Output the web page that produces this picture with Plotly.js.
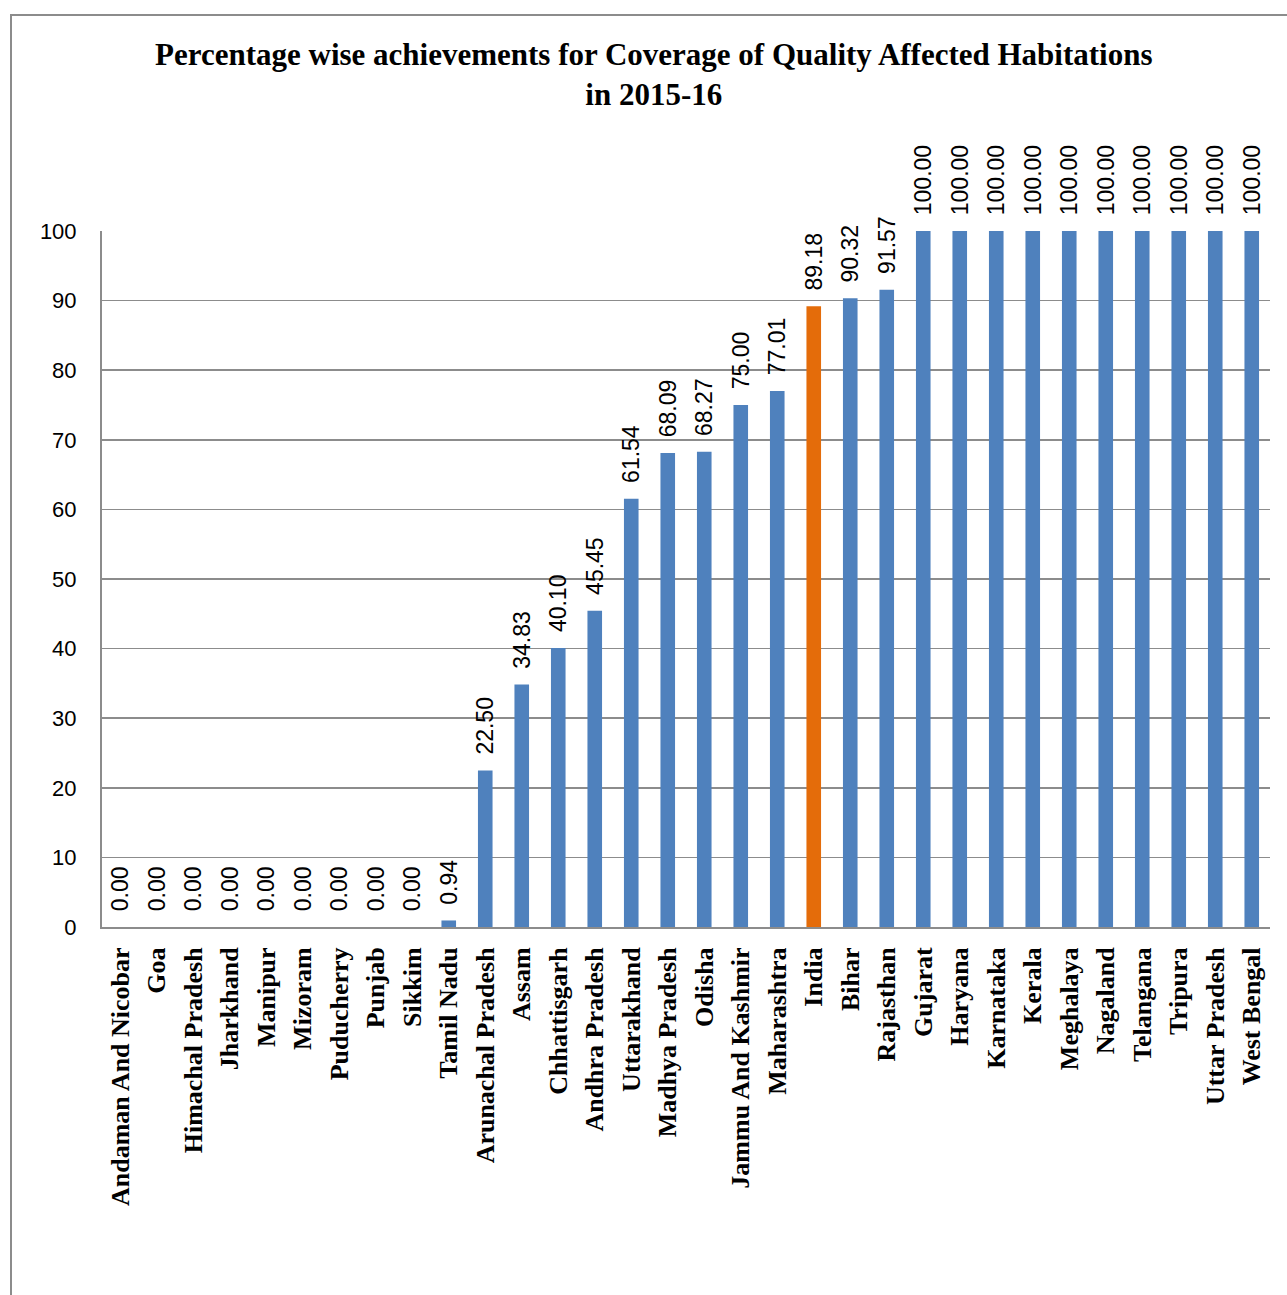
<!DOCTYPE html>
<html>
<head>
<meta charset="utf-8">
<script src="https://cdn.plot.ly/plotly-3.0.1.min.js"></script>
<style>
html,body{margin:0;padding:0;background:#fff;overflow:hidden;}
#frame{position:absolute;left:10px;top:14px;width:1300px;height:1300px;border:2px solid #8c8c8c;box-sizing:border-box;pointer-events:none;z-index:5;}
#chart{position:absolute;left:0;top:0;width:1287px;height:1295px;}
</style>
</head>
<body>
<div id="frame"></div>
<div id="chart"></div>
<script>
const states = ["Andaman And Nicobar","Goa","Himachal Pradesh","Jharkhand","Manipur","Mizoram","Puducherry","Punjab","Sikkim","Tamil Nadu","Arunachal Pradesh","Assam","Chhattisgarh","Andhra Pradesh","Uttarakhand","Madhya Pradesh","Odisha","Jammu And Kashmir","Maharashtra","India","Bihar","Rajasthan","Gujarat","Haryana","Karnataka","Kerala","Meghalaya","Nagaland","Telangana","Tripura","Uttar Pradesh","West Bengal"];
const achievement = [0,0,0,0,0,0,0,0,0,0.94,22.50,34.83,40.10,45.45,61.54,68.09,68.27,75.00,77.01,89.18,90.32,91.57,100,100,100,100,100,100,100,100,100,100];
const highlight = "India";
const yTicks = [0,10,20,30,40,50,60,70,80,90,100];

const colors = states.map(s => s === highlight ? "#E46C0A" : "#4F81BD");

const trace = {
  type: "bar",
  x: states,
  y: achievement,
  marker: {color: colors, line: {width: 0}},
  width: 0.4,
  texttemplate: "\u00a0\u00a0%{y:.2f}",
  textposition: "outside",
  textangle: -90,
  constraintext: "none",
  cliponaxis: false,
  textfont: {family: "Liberation Sans, Arial, sans-serif", size: 23, color: "#000"},
  hoverinfo: "x+y"
};

const layout = {
  width: 1287, height: 1295,
  margin: {l: 102, r: 17, t: 231, b: 368},
  paper_bgcolor: "#fff", plot_bgcolor: "#fff",
  showlegend: false,
  title: {
    text: "<b>Percentage wise achievements for Coverage of Quality Affected Habitations<br>in 2015-16</b>",
    font: {family: "Liberation Serif, Times New Roman, serif", size: 31, color: "#000"},
    x: 0.508, xref: "container", xanchor: "center",
    y: 0.95, yref: "container", yanchor: "top"
  },
  xaxis: {
    type: "category",
    tickangle: -90,
    tickfont: {family: "Liberation Serif, Times New Roman, serif", size: 26, color: "#000", weight: "bold"},
    showline: true, linecolor: "#8c8c8c", linewidth: 2,
    ticks: "", ticklabelstandoff: 8,
    showgrid: false, zeroline: false
  },
  yaxis: {
    range: [0, 100],
    tickvals: yTicks,
    tickfont: {family: "Liberation Sans, Arial, sans-serif", size: 22, color: "#000"},
    showline: true, linecolor: "#8c8c8c", linewidth: 2,
    showgrid: true, gridcolor: "#8c8c8c", gridwidth: 1.5,
    zeroline: false, ticks: "", ticklabelstandoff: 19
  },
  bargap: 0.6
};

Plotly.newPlot("chart", [trace], layout, {displayModeBar: false, staticPlot: true});
</script>
</body>
</html>
